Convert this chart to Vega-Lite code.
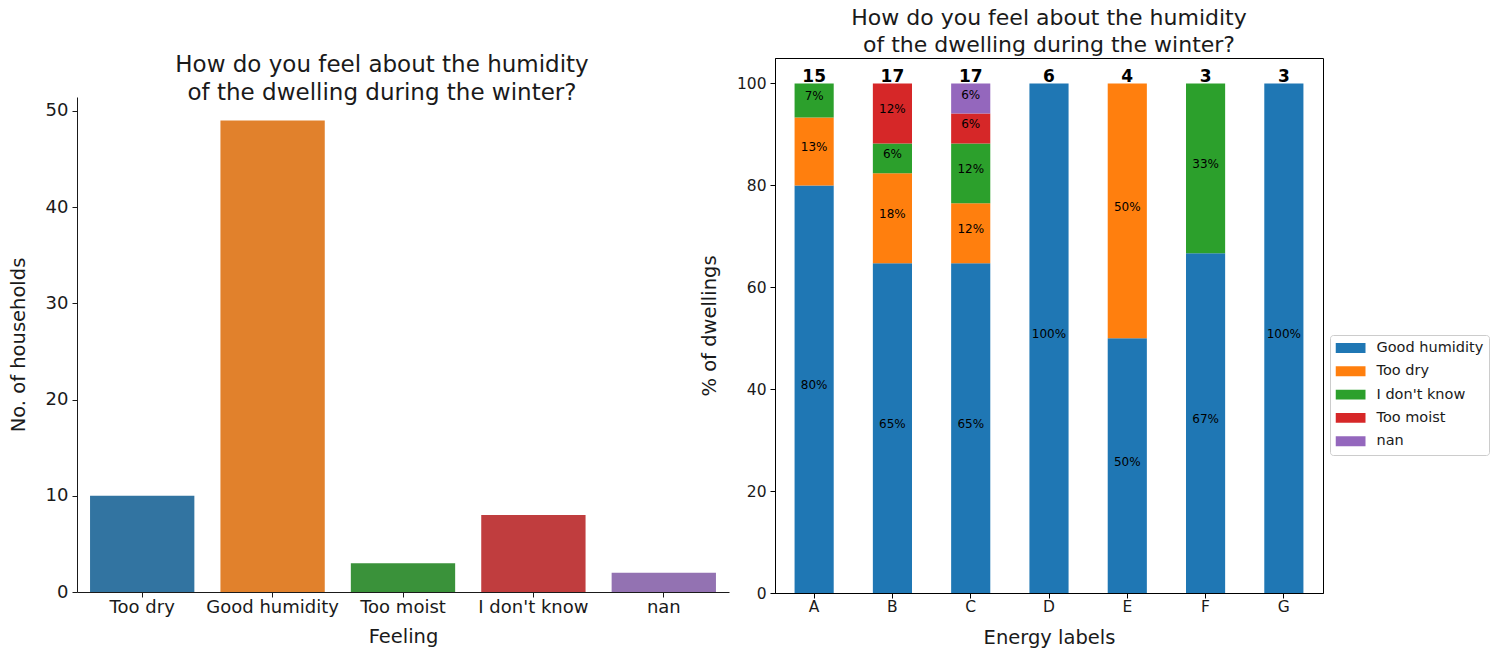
{
  "$schema": "https://vega.github.io/schema/vega-lite/v6.json",
  "padding": {"left": 8, "top": 6, "right": 5, "bottom": 5},
  "background": "white",
  "spacing": -31,
  "resolve": {"scale": {"color": "independent", "x": "independent", "y": "independent"}},
  "config": {
    "font": "DejaVu Sans",
    "axis": {
      "labelFont": "DejaVu Sans",
      "titleFont": "DejaVu Sans",
      "labelColor": "#1a1a1a",
      "titleColor": "#1a1a1a",
      "titleFontWeight": "normal",
      "grid": false,
      "tickColor": "#1a1a1a",
      "domainColor": "#1a1a1a",
      "tickSize": 5,
      "labelPadding": 4,
      "labelFontSize": 17,
      "titleFontSize": 19.5
    },
    "title": {"font": "DejaVu Sans", "fontWeight": "normal", "fontSize": 22, "color": "#1a1a1a", "lineHeight": 27}
  },
  "hconcat": [
    {
      "spacing": -5,
      "vconcat": [
        {
          "width": 652,
          "height": 1,
          "data": {"values": []},
          "mark": "rect",
          "view": {"stroke": null}
        },
        {
          "width": 652,
          "height": 495,
          "view": {"stroke": null},
          "title": {
            "text": ["How do you feel about the humidity", "\u00a0of the dwelling during the winter?"],
            "fontSize": 23,
            "lineHeight": 28,
            "dx": -21,
            "offset": -8.3
          },
          "data": {
            "values": [
              {"feeling": "Too dry", "count": 10},
              {"feeling": "Good humidity", "count": 49},
              {"feeling": "Too moist", "count": 3},
              {"feeling": "I don't know", "count": 8},
              {"feeling": "nan", "count": 2}
            ]
          },
          "mark": {"type": "bar"},
          "encoding": {
            "x": {
              "field": "feeling",
              "type": "nominal",
              "sort": null,
              "scale": {"paddingInner": 0.2, "paddingOuter": 0.1},
              "axis": {"title": "Feeling", "labelAngle": 0, "labelPadding": 1, "titlePadding": 11, "labelFontSize": 18}
            },
            "y": {
              "field": "count",
              "type": "quantitative",
              "scale": {"domain": [0, 51.45], "nice": false},
              "axis": {"title": "No. of households", "values": [0, 10, 20, 30, 40, 50], "titlePadding": 17, "labelFontSize": 18}
            },
            "color": {
              "field": "feeling",
              "type": "nominal",
              "scale": {
                "domain": ["Too dry", "Good humidity", "Too moist", "I don't know", "nan"],
                "range": ["#3274a1", "#e1812c", "#3a923a", "#c03d3e", "#9372b2"]
              },
              "legend": null
            }
          }
        }
      ]
    },
    {
      "width": 548,
      "height": 535,
      "view": {"stroke": "#000", "strokeWidth": 1},
      "title": {
        "text": ["How do you feel about the humidity", "\u00a0of the dwelling during the winter?"],
        "offset": 1
      },
      "data": {
        "values": [
          {"energy": "A", "feeling": "Good humidity", "rank": 1, "pct": 80.0, "label": "80%"},
          {"energy": "A", "feeling": "Too dry", "rank": 2, "pct": 13.33, "label": "13%"},
          {"energy": "A", "feeling": "I don't know", "rank": 3, "pct": 6.67, "label": "7%"},
          {"energy": "B", "feeling": "Good humidity", "rank": 1, "pct": 64.71, "label": "65%"},
          {"energy": "B", "feeling": "Too dry", "rank": 2, "pct": 17.65, "label": "18%"},
          {"energy": "B", "feeling": "I don't know", "rank": 3, "pct": 5.88, "label": "6%"},
          {"energy": "B", "feeling": "Too moist", "rank": 4, "pct": 11.76, "label": "12%"},
          {"energy": "C", "feeling": "Good humidity", "rank": 1, "pct": 64.71, "label": "65%"},
          {"energy": "C", "feeling": "Too dry", "rank": 2, "pct": 11.76, "label": "12%"},
          {"energy": "C", "feeling": "I don't know", "rank": 3, "pct": 11.76, "label": "12%"},
          {"energy": "C", "feeling": "Too moist", "rank": 4, "pct": 5.88, "label": "6%"},
          {"energy": "C", "feeling": "nan", "rank": 5, "pct": 5.88, "label": "6%"},
          {"energy": "D", "feeling": "Good humidity", "rank": 1, "pct": 100.0, "label": "100%"},
          {"energy": "E", "feeling": "Good humidity", "rank": 1, "pct": 50.0, "label": "50%"},
          {"energy": "E", "feeling": "Too dry", "rank": 2, "pct": 50.0, "label": "50%"},
          {"energy": "F", "feeling": "Good humidity", "rank": 1, "pct": 66.67, "label": "67%"},
          {"energy": "F", "feeling": "I don't know", "rank": 3, "pct": 33.33, "label": "33%"},
          {"energy": "G", "feeling": "Good humidity", "rank": 1, "pct": 100.0, "label": "100%"}
        ]
      },
      "layer": [
        {
          "transform": [
            {"stack": "pct", "groupby": ["energy"], "sort": [{"field": "rank", "order": "ascending"}], "as": ["y0", "y1"]}
          ],
          "mark": {"type": "bar"},
          "encoding": {
            "x": {
              "field": "energy",
              "type": "nominal",
              "scale": {"domain": ["A", "B", "C", "D", "E", "F", "G"], "paddingInner": 0.5, "paddingOuter": 0.25},
              "axis": {"title": "Energy labels", "labelAngle": 0, "labelFontSize": 15.5, "labelPadding": 1, "titlePadding": 14, "domainColor": "#000", "tickColor": "#000"}
            },
            "y": {
              "field": "y1",
              "type": "quantitative",
              "scale": {"domain": [0, 105], "nice": false},
              "axis": {"title": "% of dwellings", "values": [0, 20, 40, 60, 80, 100], "labelFontSize": 15.5, "titlePadding": 17, "domainColor": "#000", "tickColor": "#000"}
            },
            "y2": {"field": "y0"},
            "color": {
              "field": "feeling",
              "type": "nominal",
              "scale": {
                "domain": ["Good humidity", "Too dry", "I don't know", "Too moist", "nan"],
                "range": ["#1f77b4", "#ff7f0e", "#2ca02c", "#d62728", "#9467bd"]
              },
              "legend": {
                "title": null,
                "orient": "none",
                "legendX": 555,
                "legendY": 277,
                "symbolType": "M-1,-0.33L1,-0.33L1,0.33L-1,0.33Z",
                "symbolSize": 900,
                "symbolStrokeWidth": 0,
                "symbolOpacity": 1,
                "clipHeight": 15,
                "rowPadding": 7.3,
                "labelOffset": 11,
                "labelFont": "DejaVu Sans",
                "labelFontSize": 14.5,
                "labelColor": "#1a1a1a",
                "labelLimit": 200,
                "padding": 5.5,
                "strokeColor": "#cccccc",
                "fillColor": "white",
                "cornerRadius": 3
              }
            }
          }
        },
        {
          "transform": [
            {"stack": "pct", "groupby": ["energy"], "sort": [{"field": "rank", "order": "ascending"}], "as": ["y0", "y1"]},
            {"calculate": "(datum.y0 + datum.y1) / 2", "as": "ymid"}
          ],
          "mark": {"type": "text", "baseline": "alphabetic", "align": "center", "fontSize": 12, "font": "DejaVu Sans", "color": "#000"},
          "encoding": {
            "x": {"field": "energy", "type": "nominal"},
            "y": {"field": "ymid", "type": "quantitative"},
            "text": {"field": "label"}
          }
        },
        {
          "data": {
            "values": [
              {"energy": "A", "n": 15},
              {"energy": "B", "n": 17},
              {"energy": "C", "n": 17},
              {"energy": "D", "n": 6},
              {"energy": "E", "n": 4},
              {"energy": "F", "n": 3},
              {"energy": "G", "n": 3}
            ]
          },
          "mark": {"type": "text", "baseline": "alphabetic", "align": "center", "fontSize": 17, "fontWeight": "bold", "font": "DejaVu Sans", "color": "#000", "dy": -1},
          "encoding": {
            "x": {"field": "energy", "type": "nominal"},
            "y": {"datum": 100, "type": "quantitative"},
            "text": {"field": "n"}
          }
        }
      ]
    }
  ]
}
